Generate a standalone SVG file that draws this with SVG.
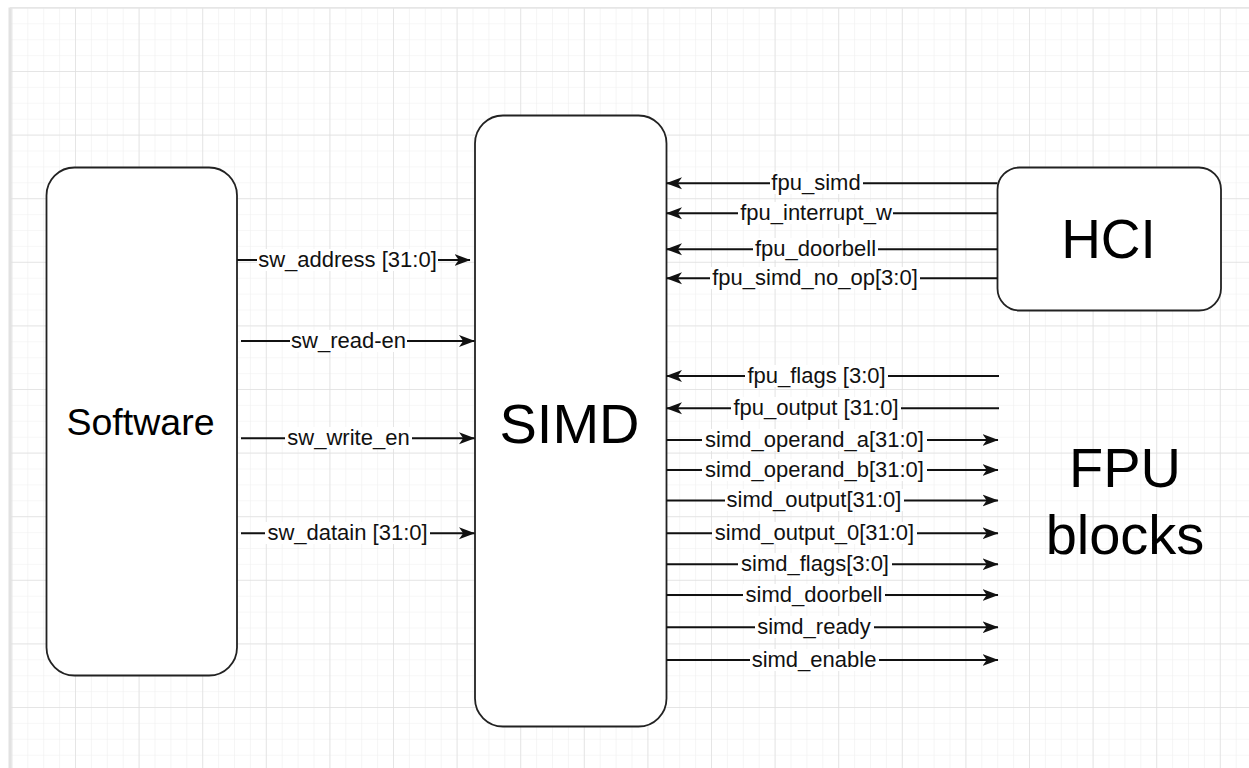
<svg xmlns="http://www.w3.org/2000/svg" width="1249" height="768" viewBox="0 0 1249 768">
  <style>
    .box { fill: #ffffff; stroke: #222222; stroke-width: 1.8; }
    .big { font-family: "Liberation Sans", Arial, sans-serif; fill: #000000; text-anchor: middle; }
    .wire { stroke: #111111; stroke-width: 1.9; fill: none; marker-end: url(#arrow); }
    .lbl { font-family: "Liberation Sans", Arial, sans-serif; font-size: 22px; fill: #111111; text-anchor: middle; }
    .lblbg { fill: #ffffff; }
  </style>
  <defs>
    <pattern id="minorGrid" patternUnits="userSpaceOnUse" x="11.4" y="7.4" width="15.9" height="15.9">
      <path d="M 0 0 L 15.9 0 M 0 0 L 0 15.9" stroke="#efefef" stroke-width="1.2" fill="none"/>
    </pattern>
    <pattern id="majorGrid" patternUnits="userSpaceOnUse" x="11.4" y="7.4" width="63.6" height="63.6">
      <path d="M 0 0 L 63.6 0 M 0 0 L 0 63.6" stroke="#dfdfdf" stroke-width="1.4" fill="none"/>
    </pattern>
    <marker id="arrow" viewBox="0 0 16 14" refX="15.5" refY="7" markerWidth="16" markerHeight="14" markerUnits="userSpaceOnUse" orient="auto">
      <path d="M 0 1 L 16 7 L 0 13 L 4.2 7 Z" fill="#111111"/>
    </marker>
  </defs>

  <!-- canvas with grid -->
  <rect x="0" y="0" width="1249" height="768" fill="#ffffff"/>
  <rect x="11" y="7.4" width="1238" height="761" fill="url(#minorGrid)"/>
  <rect x="11" y="7.4" width="1238" height="761" fill="url(#majorGrid)"/>
  <line x1="10" y1="7.4" x2="10" y2="768" stroke="#e2e2e2" stroke-width="3"/>
  <line x1="10" y1="7.8" x2="1249" y2="7.8" stroke="#e6e6e6" stroke-width="1.5"/>

  <!-- blocks -->
  <g id="software">
    <rect class="box" x="46.5" y="167.5" width="190.5" height="508" rx="28" ry="28"/>
    <text class="big" x="140.5" y="434.5" font-size="37.5">Software</text>
  </g>
  <g id="simd">
    <rect class="box" x="475" y="115.5" width="191.5" height="611" rx="28" ry="28"/>
    <text class="big" x="569.5" y="442.5" font-size="56">SIMD</text>
  </g>
  <g id="hci">
    <rect class="box" x="997.5" y="167.5" width="223.5" height="143" rx="22" ry="22"/>
    <text class="big" x="1108.5" y="257.5" font-size="55">HCI</text>
  </g>
  <g id="fpu-blocks">
    <text class="big" x="1125" y="487" font-size="56">FPU</text>
    <text class="big" x="1125" y="553.5" font-size="56">blocks</text>
  </g>

  <!-- signal wires -->
  <g id="connectors">
    <!-- software to SIMD -->
    <line class="wire" x1="237" y1="260" x2="470" y2="260"/>
    <line class="wire" x1="241" y1="341" x2="474.5" y2="341"/>
    <line class="wire" x1="241" y1="438.3" x2="474.5" y2="438.3"/>
    <line class="wire" x1="241" y1="533.3" x2="474.5" y2="533.3"/>
    <!-- HCI to SIMD -->
    <line class="wire" x1="997.5" y1="183.3" x2="666.5" y2="183.3"/>
    <line class="wire" x1="997.5" y1="213.3" x2="666.5" y2="213.3"/>
    <line class="wire" x1="997.5" y1="249.3" x2="666.5" y2="249.3"/>
    <line class="wire" x1="997.5" y1="278.3" x2="666.5" y2="278.3"/>
    <!-- FPU to SIMD -->
    <line class="wire" x1="999" y1="376" x2="666.5" y2="376"/>
    <line class="wire" x1="999" y1="408.3" x2="666.5" y2="408.3"/>
    <!-- SIMD to FPU -->
    <line class="wire" x1="666.5" y1="440" x2="998" y2="440"/>
    <line class="wire" x1="666.5" y1="470" x2="998" y2="470"/>
    <line class="wire" x1="666.5" y1="500.5" x2="998" y2="500.5"/>
    <line class="wire" x1="666.5" y1="533.3" x2="998" y2="533.3"/>
    <line class="wire" x1="666.5" y1="564.3" x2="998" y2="564.3"/>
    <line class="wire" x1="666.5" y1="595" x2="998" y2="595"/>
    <line class="wire" x1="666.5" y1="627.3" x2="998" y2="627.3"/>
    <line class="wire" x1="666.5" y1="660" x2="998" y2="660"/>

    <!-- wire labels -->
    <rect class="lblbg" x="257" y="249" width="181" height="22"/>
    <text class="lbl" x="347.5" y="266.5">sw_address [31:0]</text>
    <rect class="lblbg" x="290" y="330" width="117" height="22"/>
    <text class="lbl" x="348.5" y="347.5">sw_read-en</text>
    <rect class="lblbg" x="285" y="427" width="127" height="22"/>
    <text class="lbl" x="348.5" y="444.8">sw_write_en</text>
    <rect class="lblbg" x="265" y="522" width="165" height="22"/>
    <text class="lbl" x="347.5" y="539.8">sw_datain [31:0]</text>

    <rect class="lblbg" x="770" y="172" width="93" height="22"/>
    <text class="lbl" x="816" y="189.8">fpu_simd</text>
    <rect class="lblbg" x="738" y="202" width="155" height="22"/>
    <text class="lbl" x="816" y="219.8">fpu_interrupt_w</text>
    <rect class="lblbg" x="753" y="238" width="125" height="22"/>
    <text class="lbl" x="815.5" y="255.8">fpu_doorbell</text>
    <rect class="lblbg" x="710" y="267" width="210" height="22"/>
    <text class="lbl" x="815" y="284.8">fpu_simd_no_op[3:0]</text>

    <rect class="lblbg" x="745" y="365" width="143" height="22"/>
    <text class="lbl" x="816.5" y="382.5">fpu_flags [3:0]</text>
    <rect class="lblbg" x="731" y="397" width="170" height="22"/>
    <text class="lbl" x="816" y="414.8">fpu_output [31:0]</text>
    <rect class="lblbg" x="702" y="429" width="225" height="22"/>
    <text class="lbl" x="814.5" y="446.5">simd_operand_a[31:0]</text>
    <rect class="lblbg" x="702" y="459" width="225" height="22"/>
    <text class="lbl" x="814.5" y="476.5">simd_operand_b[31:0]</text>
    <rect class="lblbg" x="725" y="489" width="179" height="22"/>
    <text class="lbl" x="814" y="507">simd_output[31:0]</text>
    <rect class="lblbg" x="712" y="522" width="205" height="22"/>
    <text class="lbl" x="814.5" y="539.8">simd_output_0[31:0]</text>
    <rect class="lblbg" x="738" y="553" width="154" height="22"/>
    <text class="lbl" x="815" y="570.8">simd_flags[3:0]</text>
    <rect class="lblbg" x="743" y="584" width="142" height="22"/>
    <text class="lbl" x="814" y="601.5">simd_doorbell</text>
    <rect class="lblbg" x="755" y="616" width="119" height="22"/>
    <text class="lbl" x="814" y="633.8">simd_ready</text>
    <rect class="lblbg" x="750" y="649" width="129" height="22"/>
    <text class="lbl" x="814" y="666.5">simd_enable</text>
  </g>
</svg>
